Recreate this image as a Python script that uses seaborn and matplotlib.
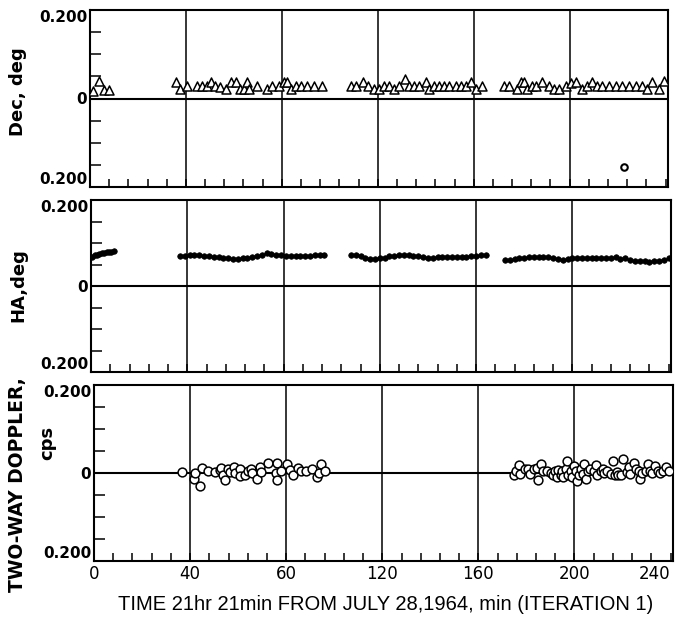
import numpy as np
import pandas as pd
import matplotlib
matplotlib.use("Agg")
import matplotlib.pyplot as plt
from matplotlib.ticker import FixedLocator, MultipleLocator, FixedFormatter
import seaborn as sns

# ---------------- data ----------------
dec_x = [1.2, 3.8, 5.8, 7.9,
         35.7, 37.5, 40.4, 44.6, 46.7, 48.8, 50.4, 52.2, 54.3, 56.8, 58.8, 61.0, 62.4, 64.2,
         65.3, 66.2, 69.7, 73.9, 76.0, 78.8, 80.8, 82.2, 83.9, 85.7, 87.8, 90.5, 93.3, 96.8,
         109.0, 111.0, 113.9, 116.0, 118.5, 120.6, 122.6, 124.7, 126.8, 128.9, 131.4, 133.0,
         135.1, 137.2, 140.0, 141.4, 143.5, 145.6, 147.6, 149.7, 152.5, 154.6, 156.7, 158.8,
         160.8, 163.6,
         172.7, 174.7, 178.2, 179.6, 181.0, 182.4, 184.4, 185.8, 188.6, 191.4, 193.4, 195.5,
         198.3, 200.4, 202.5, 205.3, 207.4, 209.4, 211.5, 213.6, 216.4, 219.2, 222.0, 224.7,
         227.5, 230.3, 232.4, 234.4, 237.2, 239.3]
dec_y = [0.018, 0.040, 0.020, 0.020,
         0.037, 0.021, 0.028, 0.028, 0.029, 0.028, 0.037, 0.028, 0.027, 0.021, 0.037, 0.037,
         0.021, 0.022, 0.037, 0.021, 0.028, 0.021, 0.028, 0.028, 0.037, 0.038, 0.021, 0.028,
         0.028, 0.028, 0.028, 0.028,
         0.028, 0.028, 0.037, 0.028, 0.021, 0.021, 0.028, 0.028, 0.022, 0.028, 0.044, 0.028,
         0.028, 0.028, 0.037, 0.021, 0.028, 0.028, 0.028, 0.028, 0.028, 0.028, 0.028, 0.037,
         0.021, 0.028,
         0.028, 0.028, 0.021, 0.037, 0.038, 0.021, 0.028, 0.028, 0.037, 0.028, 0.021, 0.021,
         0.028, 0.036, 0.037, 0.021, 0.028, 0.038, 0.028, 0.028, 0.028, 0.028, 0.028, 0.028,
         0.028, 0.028, 0.021, 0.037, 0.022, 0.040]
dec_out_x = [222.5]
dec_out_y = [-0.154]

ha_x = [0.5, 1.5, 2.5, 3.5, 4.5, 5.5, 6.5, 7.5, 8.5, 9.5,
        37, 39, 41, 43, 45, 47, 49, 51, 53, 55, 57, 59, 61, 63, 65, 67, 69, 71, 73, 75, 77,
        79, 81, 83, 85, 87, 89, 91, 93, 95, 97,
        108, 110, 112, 114, 116, 118, 120, 122, 124, 126, 128, 130, 132, 134, 136, 138, 140,
        142, 144, 146, 148, 150, 152, 154, 156, 158, 160, 162, 164,
        172, 174, 176, 178, 180, 182, 184, 186, 188, 190, 192, 194, 196, 198, 200, 202, 204,
        206, 208, 210, 212, 214, 216, 218, 220, 222, 224, 226, 228, 230, 232, 234, 236, 238, 240]
ha_y = [0.068, 0.071, 0.073, 0.074, 0.076, 0.077, 0.078, 0.079, 0.080, 0.081,
        0.070, 0.070, 0.071, 0.071, 0.071, 0.070, 0.069, 0.068, 0.067, 0.066, 0.065, 0.063,
        0.062, 0.064, 0.065, 0.067, 0.069, 0.071, 0.077, 0.074, 0.072, 0.071, 0.070, 0.070,
        0.069, 0.070, 0.070, 0.070, 0.071, 0.071, 0.072,
        0.072, 0.071, 0.070, 0.066, 0.062, 0.062, 0.064, 0.066, 0.069, 0.070, 0.071, 0.071,
        0.071, 0.070, 0.070, 0.068, 0.066, 0.066, 0.068, 0.068, 0.068, 0.068, 0.068, 0.068,
        0.068, 0.069, 0.070, 0.073, 0.071,
        0.060, 0.060, 0.063, 0.065, 0.066, 0.067, 0.068, 0.068, 0.068, 0.067, 0.066, 0.062,
        0.061, 0.062, 0.064, 0.066, 0.066, 0.066, 0.066, 0.066, 0.066, 0.066, 0.066, 0.067,
        0.063, 0.064, 0.060, 0.058, 0.057, 0.057, 0.056, 0.057, 0.059, 0.061, 0.064]

dop_x = [36.7, 41.5, 42.2, 44.3, 45.0, 47.4, 50.2, 52.4, 52.9, 53.8, 54.7, 55.7, 56.8, 58.2,
         58.6, 60.6, 60.7, 62.7, 64.1, 65.2, 65.9, 67.9, 69.1, 69.6, 72.5, 75.6, 76.0, 76.3,
         77.7, 80.4, 81.6, 82.9, 85.0, 86.3, 88.1, 90.9, 92.9, 93.6, 94.3, 96.0,
         174.8, 175.7, 177.1, 177.5, 179.2, 180.8, 181.6, 183.3, 184.4, 184.9, 186.0, 186.7,
         188.5, 190.4, 191.2, 191.8, 192.9, 193.2, 194.2, 194.9, 195.3, 196.3, 196.7, 197.3,
         198.4, 199.1, 199.8, 200.8, 201.1, 201.8, 202.5, 203.6, 204.1, 204.9, 205.5, 206.6,
         208.0, 209.1, 209.3, 211.0, 211.8, 212.3, 213.5, 215.1, 216.2, 216.9, 217.6, 218.3,
         219.2, 220.3, 222.0, 222.8, 223.3, 224.7, 225.5, 226.9, 227.4, 228.3, 229.6, 230.6,
         231.6, 232.4, 233.7, 234.7, 235.4, 236.8, 238.1, 239.3]
dop_y = [0.002, -0.014, 0.000, -0.030, 0.012, 0.004, 0.002, 0.006, 0.012, -0.004, -0.016,
         0.009, 0.002, 0.014, 0.000, 0.008, -0.006, -0.004, 0.004, 0.009, 0.000, -0.013,
         0.014, 0.002, 0.023, 0.000, 0.022, -0.016, 0.004, 0.020, 0.006, -0.004, 0.012, 0.004,
         0.004, 0.008, -0.009, 0.000, 0.020, 0.004,
         -0.005, 0.004, 0.018, -0.002, 0.008, 0.010, -0.002, 0.008, 0.012, -0.016, 0.020,
         0.005, 0.004, 0.000, -0.004, 0.005, -0.010, 0.007, -0.005, 0.004, -0.010, 0.010,
         0.027, -0.005, 0.004, -0.008, 0.016, 0.004, -0.018, -0.005, 0.008, -0.002, 0.020,
         -0.013, 0.004, 0.008, 0.004, 0.018, -0.004, 0.005, 0.010, 0.000, 0.004, -0.002,
         0.027, -0.004, 0.002, -0.005, -0.005, 0.031, 0.002, 0.013, -0.002, 0.023, 0.010,
         0.004, -0.013, 0.000, 0.005, 0.021, 0.005, 0.000, 0.016, 0.004, 0.000, 0.005, 0.013,
         0.004]

x_tick_pos = [0, 40, 80, 120, 160, 200, 240]
x_tick_labels = ["0", "40", "60", "120", "160", "200", "240"]
grid_x = [40, 80, 120, 160, 200]
y_tick_pos = [-0.2, 0.0, 0.2]
y_tick_labels = ["0.200", "0", "0.200"]
ylabels = ["Dec, deg", "HA,deg", "TWO-WAY DOPPLER,", "cps"]
xlabel = "TIME 21hr 21min FROM JULY 28,1964, min (ITERATION 1)"

# ---------------- figure ----------------
sns.set_style("white")
plt.rcParams["font.family"] = ["DejaVu Sans"]
plt.rcParams["text.color"] = "black"
plt.rcParams["xtick.color"] = "black"
plt.rcParams["ytick.color"] = "black"
plt.rcParams["axes.labelcolor"] = "black"

W, Hh = 676, 622
fig = plt.figure(figsize=(W / 100, Hh / 100), dpi=100)

def frac(l, t, r, b):
    return [l / W, 1 - b / Hh, (r - l) / W, (b - t) / Hh]

ax1 = fig.add_axes(frac(90, 10, 668, 187))
ax2 = fig.add_axes(frac(91, 200, 671, 372))
ax3 = fig.add_axes(frac(94, 385, 673, 561))
axes = [ax1, ax2, ax3]

# Dec panel
sns.scatterplot(x=dec_x, y=dec_y, marker="^", s=42, facecolor="white",
                edgecolor="black", linewidth=1.1, ax=ax1, zorder=3)
sns.scatterplot(x=dec_out_x, y=dec_out_y, marker="o", s=22, facecolor="white",
                edgecolor="black", linewidth=1.5, ax=ax1, zorder=3)
# HA panel
sns.scatterplot(x=ha_x, y=ha_y, marker="o", s=16, color="black",
                edgecolor="black", linewidth=0.5, ax=ax2, zorder=3)
# Doppler panel
sns.scatterplot(x=dop_x, y=dop_y, marker="o", s=40, facecolor="white",
                edgecolor="black", linewidth=1.1, ax=ax3, zorder=3)

for ax in axes:
    ax.set_xlim(0, 241)
    ax.set_ylim(-0.2, 0.2)
    ax.set_xlabel("")
    ax.set_ylabel("")
    for s in ax.spines.values():
        s.set_visible(True)
        s.set_linewidth(1.5)
        s.set_color("black")
    ax.axhline(0, color="black", lw=1.5, zorder=1)
    for gx in grid_x:
        ax.axvline(gx, color="black", lw=1.1, zorder=1)
    ax.yaxis.set_major_locator(FixedLocator(y_tick_pos))
    ax.yaxis.set_major_formatter(FixedFormatter(y_tick_labels))
    ax.yaxis.set_minor_locator(MultipleLocator(0.05))
    ax.xaxis.set_major_locator(FixedLocator(x_tick_pos))
    ax.xaxis.set_minor_locator(MultipleLocator(8))
    ax.tick_params(axis="both", which="both", direction="in", color="black",
                   labelcolor="black", width=1.1, top=False, right=False,
                   left=True, bottom=True)
    ax.tick_params(axis="y", which="both", length=8, labelsize=11, pad=2)
    ax.tick_params(axis="x", which="both", length=6)
    ylabs = ax.get_yticklabels()
    for lab in ylabs:
        lab.set_fontweight("bold")
    ylabs[0].set_va("bottom")
    ylabs[2].set_va("top")

for ax in (ax1, ax2):
    ax.set_xticklabels([])
ax3.set_xticklabels(x_tick_labels, fontsize=12)
ax3.tick_params(axis="x", pad=3)
ax3.get_xticklabels()[-1].set_ha("right")

fig.text(18 / W, 1 - 92 / Hh, ylabels[0], rotation=90, ha="center", va="center",
         fontsize=13, fontweight="bold", color="black")
fig.text(18 / W, 1 - 285 / Hh, ylabels[1], rotation=90, ha="center", va="center",
         fontsize=13, fontweight="bold", color="black")
fig.text(18 / W, 1 - 485 / Hh, ylabels[2], rotation=90, ha="center", va="center",
         fontsize=13.5, fontweight="bold", color="black")
fig.text(47 / W, 1 - 443 / Hh, ylabels[3], rotation=90, ha="center", va="center",
         fontsize=13, fontweight="bold", color="black")
fig.text(386 / W, 1 - 604 / Hh, xlabel, ha="center", va="center",
         fontsize=14.5, family="Liberation Sans", color="black")

fig.savefig("out.png", dpi=100, facecolor="white")
